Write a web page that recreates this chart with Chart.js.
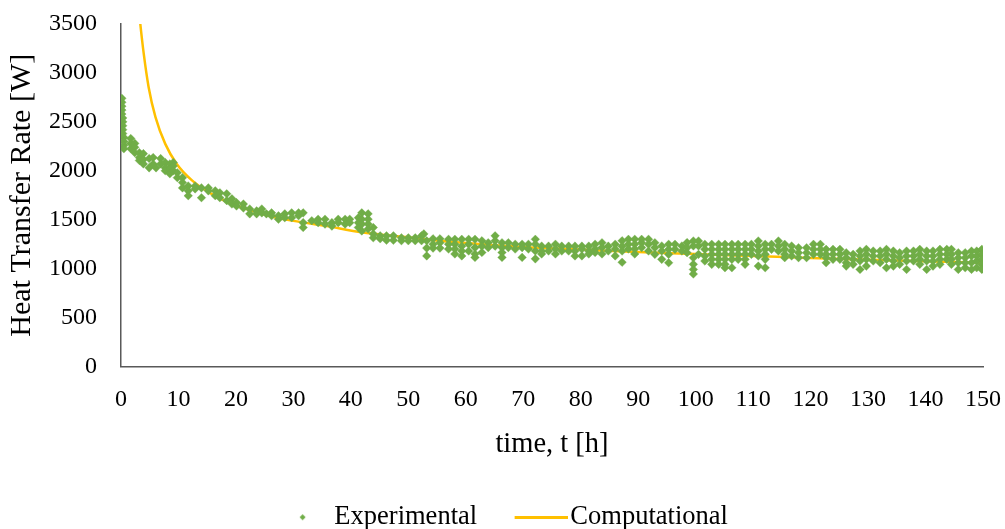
<!DOCTYPE html>
<html>
<head>
<meta charset="utf-8">
<script src="https://cdn.jsdelivr.net/npm/chart.js@4"></script>
<style>
  body { margin: 0; background: #fff; }
  #wrap { width: 1005px; height: 529px; }
</style>
</head>
<body>
<div id="wrap"><canvas id="heatChart"></canvas></div>
<script>
// experimental readings, grouped by time column [h] -> heat transfer rates [W]
const expTime = [
  0.15, 0.3, 0.5, 1.7, 2.4, 3.2, 3.9, 4.9, 5.6, 6.1, 6.9, 7.7, 8.5, 9.1, 9.8,
  10.7, 11.7, 12.9, 14.0, 15.2, 16.4, 17.2, 18.4, 19.3, 20.1, 21.3, 22.4, 23.6, 24.5, 25.3,
  26.2, 27.4, 28.5, 29.7, 30.9, 31.7, 33.2, 34.3, 35.5, 36.7, 37.8, 39.0, 39.8, 41.3, 41.9,
  43.0, 43.9, 45.1, 46.2, 47.4, 48.8, 50.0, 51.2, 52.3, 52.7, 53.2, 54.3, 55.5, 57.0, 58.1,
  59.3, 60.5, 61.6, 62.8, 63.9, 65.1, 66.3, 67.4, 68.6, 69.8, 70.9, 72.1, 73.2, 74.4, 75.6,
  76.7, 77.9, 79.0, 80.2, 81.4, 82.5, 83.7, 84.8, 86.0, 87.2, 88.3, 89.4, 90.6, 91.8, 92.9,
  94.1, 95.3, 96.4, 97.6, 98.5, 99.6, 100.5, 101.6, 102.8, 104.0, 105.1, 106.3, 107.4, 108.6, 109.7,
  110.9, 112.1, 113.2, 114.4, 115.5, 116.7, 117.9, 119.3, 120.5, 121.7, 122.7, 123.9, 125.1, 126.2, 127.4,
  128.6, 129.7, 130.9, 132.1, 133.2, 134.4, 135.5, 136.7, 137.9, 139.0, 140.2, 141.3, 142.5, 143.7, 144.5,
  145.7, 146.9, 148.0, 148.9, 149.8
];
const expRate = [
  [2740, 2700, 2660, 2620, 2580], [2540, 2500, 2460, 2420, 2380], [2340, 2300, 2260, 2225],
  [2330, 2280, 2225], [2280, 2240, 2185], [2185, 2135, 2105], [2175, 2115, 2070],
  [2125, 2030], [2135, 2070], [2030], [2125, 2070], [2085, 2030, 2000], [2070, 2020, 1970],
  [2085, 2050, 2000], [1980, 1930],
  [1930, 1880, 1825], [1845, 1795, 1745], [1845, 1815], [1825, 1725], [1825, 1795],
  [1795, 1745], [1775, 1725], [1765, 1695], [1715, 1660], [1675, 1640], [1660, 1620],
  [1610, 1560], [1590, 1560], [1610, 1570], [1560],
  [1570, 1540], [1540, 1505], [1560, 1520], [1570, 1520], [1570, 1540], [1570, 1470, 1420],
  [1490], [1505, 1470], [1505, 1455], [1470, 1435], [1505, 1470], [1505, 1455], [1505, 1470],
  [1520, 1470, 1420], [1570, 1505, 1455, 1385],
  [1560, 1505, 1455, 1405], [1420, 1355, 1315], [1335, 1305], [1335, 1290], [1335, 1290],
  [1315, 1285], [1315, 1285], [1315, 1285], [1335, 1285], [1355], [1285, 1210, 1130],
  [1305, 1250, 1210], [1305, 1265, 1210], [1300, 1250, 1200], [1300, 1250, 1200, 1150],
  [1300, 1230, 1180, 1130], [1300, 1250, 1180], [1300, 1215, 1150, 1115], [1285, 1230, 1165],
  [1265, 1215], [1335, 1285, 1230], [1265, 1215, 1165, 1115], [1265, 1215], [1250, 1200],
  [1250, 1215, 1115], [1250, 1200], [1300, 1250, 1180, 1100], [1230, 1180, 1150], [1230, 1180],
  [1250, 1200, 1150],
  [1230, 1180], [1230, 1180], [1230, 1180, 1130], [1230, 1200, 1130], [1230, 1180, 1150],
  [1250, 1200, 1165], [1265, 1215, 1150], [1230, 1180], [1250, 1200, 1130], [1285, 1230, 1180, 1065],
  [1300, 1250, 1200], [1300, 1250, 1200, 1150], [1300, 1265, 1215], [1300, 1250, 1180],
  [1265, 1215, 1146],
  [1232, 1180, 1095], [1249, 1197, 1146, 1060], [1249, 1197], [1232, 1180], [1266, 1214, 1163],
  [1283, 1232, 1112, 1044, 992, 945], [1283, 1232, 1146], [1249, 1197, 1129, 1078],
  [1249, 1197, 1146, 1095, 1044], [1249, 1197, 1146, 1095, 1044], [1249, 1197, 1146, 1095, 1044, 1009],
  [1249, 1197, 1146, 1095, 1009], [1249, 1197, 1146, 1095], [1249, 1197, 1146, 1095, 1044],
  [1249, 1197, 1146],
  [1283, 1232, 1180, 1129, 1026], [1249, 1197, 1146, 1095, 1009], [1249, 1197], [1283, 1232, 1180],
  [1249, 1197, 1146, 1112], [1232, 1180, 1129], [1214, 1163, 1112], [1214, 1163, 1112],
  [1249, 1197, 1146], [1249, 1197, 1146], [1197, 1146, 1112, 1060], [1197, 1146, 1095],
  [1197, 1146, 1095], [1163, 1112, 1060, 1026], [1146, 1095, 1044],
  [1180, 1129, 1078, 992], [1197, 1146, 1095, 1026], [1180, 1129, 1078], [1180, 1129, 1060],
  [1197, 1146, 1095, 1009], [1180, 1129, 1078, 1026], [1163, 1112, 1044], [1180, 1129, 1078, 992],
  [1180, 1129, 1078], [1197, 1146, 1095, 1044], [1180, 1129, 1078, 992], [1180, 1129, 1078, 1026],
  [1197, 1146, 1095, 1044], [1197, 1146, 1095], [1197, 1146, 1095, 1044],
  [1163, 1112, 1060, 992], [1163, 1112, 1060, 1009], [1180, 1129, 1060, 992],
  [1180, 1129, 1078, 1009], [1197, 1146, 1095, 1044, 992]
];

// computational curve
const compTime = [3.0, 3.36, 3.95, 4.8, 6.0, 7.7, 9.7, 12.4, 15.3, 18.7, 22.8, 25.7, 30, 35.6, 41.6,
  50, 59, 70, 80, 90, 100, 110, 120, 130, 140, 150];
const compRate = [3720, 3500, 3199, 2857, 2549, 2275, 2070, 1899, 1779, 1676, 1591, 1540, 1488, 1437, 1375,
  1320, 1266, 1220, 1195, 1170, 1150, 1128, 1110, 1090, 1075, 1060];

const xTicks = [0, 10, 20, 30, 40, 50, 60, 70, 80, 90, 100, 110, 120, 130, 140, 150];
const yTicks = [0, 500, 1000, 1500, 2000, 2500, 3000, 3500];

const GREEN = '#70AD47';
const GOLD = '#FFC000';

const expPoints = [];
expTime.forEach((t, i) => {
    expRate[i].forEach(q => expPoints.push({ x: t, y: q }));
});
const compPoints = compTime.map((t, i) => ({ x: t, y: compRate[i] }));

// little legend swatches (Excel-like: small diamond, long line)
function diamondSwatch() {
    const c = document.createElement('canvas');
    c.width = 40; c.height = 8;
    const g = c.getContext('2d');
    g.fillStyle = GREEN;
    g.beginPath();
    g.moveTo(34.5, 1); g.lineTo(37.5, 4); g.lineTo(34.5, 7); g.lineTo(31.5, 4);
    g.closePath();
    g.fill();
    return c;
}
function lineSwatch() {
    const c = document.createElement('canvas');
    c.width = 87; c.height = 3;
    const g = c.getContext('2d');
    g.fillStyle = GOLD;
    g.fillRect(34, 0, 53, 3);
    return c;
}
const legendMarks = [diamondSwatch(), lineSwatch()];

Chart.defaults.font.family = '"Liberation Serif", "Times New Roman", serif';
Chart.defaults.color = '#000';

const ctx = document.getElementById('heatChart').getContext('2d');
new Chart(ctx, {
    type: 'scatter',
    data: {
        datasets: [{
            label: 'Experimental',
            data: expPoints,
            pointStyle: 'rectRot',
            pointRadius: 4.3,
            backgroundColor: GREEN,
            borderColor: 'rgba(112, 173, 71, 0.35)',
            borderWidth: 1
        }, {
            label: 'Computational',
            data: compPoints,
            showLine: true,
            pointRadius: 0,
            borderColor: GOLD,
            backgroundColor: GOLD,
            borderWidth: 2.5,
            cubicInterpolationMode: 'monotone'
        }]
    },
    options: {
        responsive: true,
        maintainAspectRatio: false,
        animation: false,
        layout: { padding: { left: 0, right: 22, top: 24, bottom: -11.5 } },
        scales: {
            x: {
                type: 'linear',
                min: 0,
                max: 150,
                afterBuildTicks: scale => { scale.ticks = xTicks.map(v => ({ value: v })); },
                afterFit: scale => {
                    scale.height = 123.5;
                    scale.paddingLeft = 0;
                    scale.paddingRight = 0;
                },
                grid: { display: false, drawTicks: false },
                border: { display: true, color: '#595959', width: 1.5 },
                ticks: { font: { size: 24 }, padding: 19, maxRotation: 0, callback: v => String(v) },
                title: {
                    display: true,
                    text: 'time, t [h]',
                    font: { size: 28.5 },
                    padding: { top: 0, bottom: 28.4 }
                }
            },
            y: {
                min: 0,
                max: 3500,
                afterBuildTicks: scale => { scale.ticks = yTicks.map(v => ({ value: v })); },
                afterFit: scale => {
                    scale.width = 121;
                    scale.paddingTop = 0;
                    scale.paddingBottom = 0;
                },
                grid: { display: false, drawTicks: false },
                border: { display: true, color: '#595959', width: 1.5 },
                ticks: { font: { size: 24 }, padding: 24, callback: v => String(v) },
                title: {
                    display: true,
                    text: 'Heat Transfer Rate [W]',
                    font: { size: 30 },
                    padding: { top: 4, bottom: 0 }
                }
            }
        },
        plugins: {
            legend: {
                position: 'bottom',
                labels: {
                    usePointStyle: true,
                    pointStyleWidth: 66,
                    padding: 14,
                    font: { size: 26.5 },
                    generateLabels: chart => {
                        const items = Chart.defaults.plugins.legend.labels.generateLabels(chart);
                        items.forEach((item, i) => { item.pointStyle = legendMarks[i]; });
                        return items;
                    }
                }
            },
            tooltip: { enabled: false }
        }
    }
});
</script>
</body>
</html>
